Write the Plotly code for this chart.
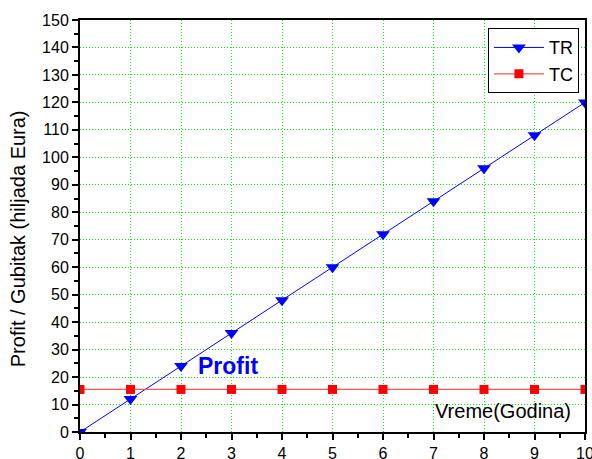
import plotly.graph_objects as go

years = [0, 1, 2, 3, 4, 5, 6, 7, 8, 9, 10]
tr_values = [0, 12, 24, 36, 48, 60, 72, 84, 96, 108, 120]
tc_values = [15.5] * 11
x_ticks = [0, 1, 2, 3, 4, 5, 6, 7, 8, 9, 10]
y_ticks = [0, 10, 20, 30, 40, 50, 60, 70, 80, 90, 100, 110, 120, 130, 140, 150]

font_family = "Arial, Liberation Sans, sans-serif"

fig = go.Figure()
fig.add_trace(go.Scatter(
    x=years, y=tr_values, name="TR", mode="lines+markers",
    line=dict(color="#0000ff", width=1),
    marker=dict(symbol="triangle-down", size=12, color="#0000ff"),
))
fig.add_trace(go.Scatter(
    x=years, y=tc_values, name="TC", mode="lines+markers",
    line=dict(color="#ff5555", width=1.2),
    marker=dict(symbol="square", size=9, color="#ff0000"),
))

axis_common = dict(
    showline=True, linecolor="black", linewidth=2, mirror=True,
    ticks="outside", ticklen=6, tickcolor="black", tickwidth=1.5,
    showgrid=True, gridcolor="#11ee11", griddash="1px,2px", gridwidth=1,
    zeroline=False, automargin=False, ticklabeloverflow="allow",
    tickfont=dict(family=font_family, size=16, color="black"),
)

fig.update_xaxes(
    range=[0, 10], tickmode="array", tickvals=x_ticks, ticktext=[str(v) for v in x_ticks],
    minor=dict(ticks="outside", ticklen=4, dtick=0.5, tickcolor="black", tickwidth=1.5, showgrid=False),
    **axis_common,
)
fig.update_yaxes(
    range=[0, 150], tickmode="array", tickvals=y_ticks, ticktext=[str(v) for v in y_ticks],
    minor=dict(ticks="outside", ticklen=4, dtick=5, tickcolor="black", tickwidth=1.5, showgrid=False),
    **axis_common,
)

fig.add_annotation(xref="paper", yref="paper", x=-0.123, y=0.47, text="Profit / Gubitak (hiljada Eura)",
                   textangle=-90, showarrow=False, xanchor="center", yanchor="middle",
                   font=dict(family=font_family, size=20, color="black"))
fig.add_annotation(x=2.3, y=24, text="<b>Profit</b>", showarrow=False, xanchor="left", yanchor="middle",
                   font=dict(family=font_family, size=23, color="#0000ff"))
fig.add_annotation(x=8.38, y=7.6, text="Vreme(Godina)", showarrow=False, xanchor="center", yanchor="middle",
                   font=dict(family=font_family, size=20, color="black"))

fig.update_layout(
    width=592, height=459,
    margin=dict(l=80, r=7, t=20, b=27),
    paper_bgcolor="white", plot_bgcolor="white",
    showlegend=True,
    legend=dict(x=0.988, y=0.98, xanchor="right", yanchor="top",
                bgcolor="white", bordercolor="black", borderwidth=1,
                font=dict(family=font_family, size=18, color="black"),
                itemwidth=50, tracegroupgap=0),
)

fig.write_html("out.html", config={"displayModeBar": False},
               post_script="document.body.style.margin='0';document.body.style.overflow='hidden';")
